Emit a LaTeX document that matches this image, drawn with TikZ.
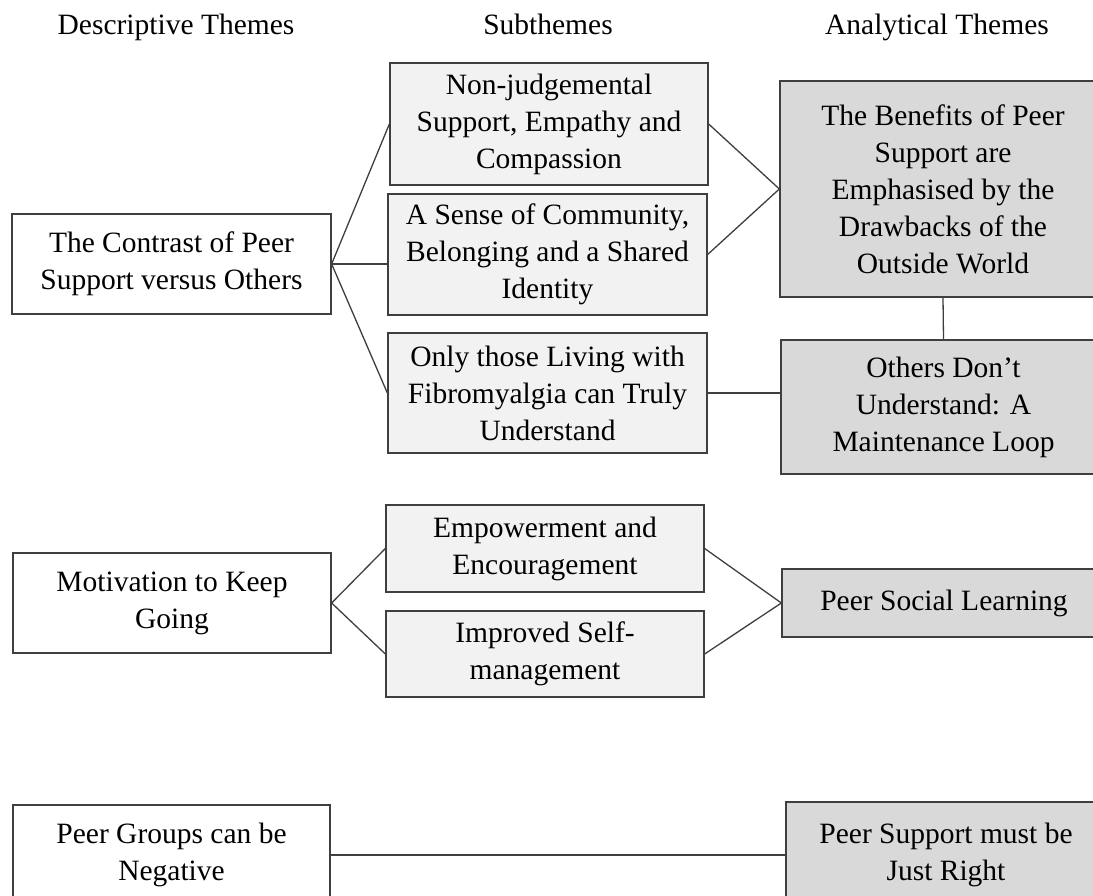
\documentclass[tikz,border=0pt]{standalone}
\usepackage{fontspec}
\setmainfont{Liberation Serif}
\definecolor{subfill}{HTML}{F2F2F2}
\definecolor{analfill}{HTML}{D9D9D9}
\definecolor{edge}{HTML}{3F3F3F}
\begin{document}
\begin{tikzpicture}[x=1pt,y=-1pt,
  every node/.style={font=\fontsize{29.5}{37}\selectfont, align=center, inner sep=0pt, text=black},
  themebox/.style={draw=edge, line width=1.3pt, fill=white},
  subbox/.style={themebox, fill=subfill},
  analbox/.style={themebox, fill=analfill},
  conn/.style={draw=edge, line width=1.3pt}]
\useasboundingbox (0,0) rectangle (1093,896);
\clip (0,0) rectangle (1093,896);
\fill[white] (0,0) rectangle (1093,896);

% headers
\node (h1) at (176,27) {Descriptive Themes};
\node (h2) at (548,24) {Subthemes};
\node (h3) at (937,27) {Analytical Themes};

% descriptive themes
\node[themebox, minimum width=319pt, minimum height=100pt] (d1) at (171.5,264) {The Contrast of Peer\\Support versus Others};
\node[themebox, minimum width=318pt, minimum height=100pt] (d2) at (172,603) {Motivation to Keep\\Going};
\node[themebox, minimum width=317pt, minimum height=100pt] (d3) at (171.5,855) {Peer Groups can be\\Negative};

% subthemes
\node[subbox, minimum width=318pt, minimum height=122pt] (s1) at (549,124) {Non-judgemental\\Support, Empathy and\\Compassion};
\node[subbox, minimum width=319pt, minimum height=121pt] (s2) at (547.5,254.5) {A Sense of Community,\\Belonging and a Shared\\Identity};
\node[subbox, minimum width=319pt, minimum height=120pt] (s3) at (547.5,393) {Only those Living with\\Fibromyalgia can Truly\\Understand};
\node[subbox, minimum width=318pt, minimum height=87pt] (s4) at (545,548.5) {Empowerment and\\Encouragement};
\node[subbox, minimum width=318pt, minimum height=86pt] (s5) at (545,654) {Improved Self-\\management};

% analytical themes
\node[analbox, minimum width=326pt, minimum height=216pt] (a1) at (943,189) {The Benefits of Peer\\Support are\\Emphasised by the\\Drawbacks of the\\Outside World};
\node[analbox, minimum width=325pt, minimum height=134pt] (a2) at (943.5,407) {Others Don’t\\Understand: A\\Maintenance Loop};
\node[analbox, minimum width=324pt, minimum height=68pt] (a3) at (944,603) {Peer Social Learning};
\node[analbox, minimum width=320pt, minimum height=106pt] (a4) at (946,855) {Peer Support must be\\Just Right};

% connectors
\draw[conn] (d1.east) -- (s1.west);
\draw[conn] (d1.east) -- (d1.east -| s2.west);
\draw[conn] (d1.east) -- (s3.west);
\draw[conn] (s1.east) -- (a1.west);
\draw[conn] (s2.east) -- (a1.west);
\draw[conn] (a1.south) -- (a2.north);
\draw[conn] (s3.east) -- (s3.east -| a2.west);
\draw[conn] (d2.east) -- (s4.west);
\draw[conn] (d2.east) -- (s5.west);
\draw[conn] (s4.east) -- (a3.west);
\draw[conn] (s5.east) -- (a3.west);
\draw[conn] (d3.east) -- (a4.west);
\end{tikzpicture}
\end{document}
